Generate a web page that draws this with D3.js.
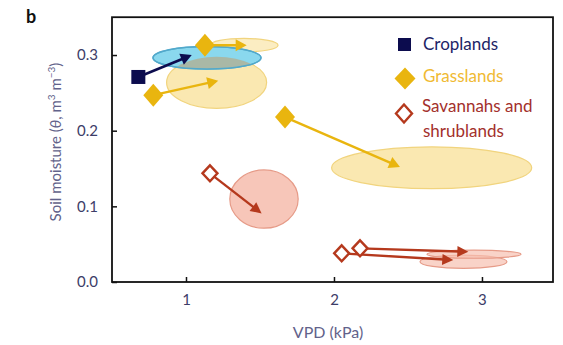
<!DOCTYPE html>
<html>
<head>
<meta charset="utf-8">
<script src="https://cdn.jsdelivr.net/npm/d3@7"></script>
<style>
  body { margin: 0; background: #fff; }
  svg { display: block; }
  text { font-family: Lato, "Open Sans", sans-serif; }
</style>
</head>
<body>
<svg id="chart" width="563" height="345"></svg>
<script>
// Biome groups shown in the legend
const categories = ["Croplands", "Grasslands", "Savannahs and shrublands"];

// Axis ticks
const xTicks = [1, 2, 3];
const xTickLabels = ["1", "2", "3"];
const yTicks = [0, 0.1, 0.2, 0.3];
const yTickLabels = ["0.0", "0.1", "0.2", "0.3"];

// Present-day state [VPD (kPa), soil moisture] and projected state
const cropStart = [[0.678, 0.271]];
const cropEnd = [[1.039, 0.300]];
const grassStart = [[0.779, 0.247], [1.128, 0.313], [1.669, 0.218]];
const grassEnd = [[1.218, 0.266], [1.410, 0.313], [2.446, 0.152]];
const savStart = [[1.162, 0.1436], [2.052, 0.0379], [2.176, 0.0445]];
const savEnd = [[1.511, 0.0907], [2.806, 0.029], [2.908, 0.040]];

// Spread of projections: [VPD centre, SM centre, VPD half-range, SM half-range]
const cropSpread = [[1.142, 0.2963, 0.365, 0.0149]];
const grassSpread = [[1.207, 0.2637, 0.338, 0.0341], [1.392, 0.313, 0.23, 0.009], [2.66, 0.151, 0.676, 0.0277]];
const savSpread = [[1.527, 0.1096, 0.231, 0.0385], [2.875, 0.0268, 0.294, 0.0088], [2.946, 0.0367, 0.318, 0.0053]];

const colors = {
  crop: "#0c0c4e", cropFill: "#8ad8ee", cropEdge: "#52a9cb",
  grass: "#e9b50f", grassFill: "#f9e6a8", grassEdge: "#f1d47e",
  sav: "#b5391d", savFill: "#f6c0b1", savEdge: "#e69b88",
  overlap: "#a9b8a6"
};

const svg = d3.select("#chart");
const x = d3.scaleLinear().domain([0.5, 3.48]).range([112, 553]);
const y = d3.scaleLinear().domain([0, 0.35]).range([282, 17.2]);

// Spread ellipses
function ellipse(g, d, fill, edge, op) {
  return g.append("ellipse")
    .attr("cx", x(d[0])).attr("cy", y(d[1]))
    .attr("rx", x(d[0] + d[2]) - x(d[0]))
    .attr("ry", y(d[1] - d[3]) - y(d[1]))
    .attr("fill", fill).attr("fill-opacity", op)
    .attr("stroke", edge).attr("stroke-width", 1.2);
}

const gE = svg.append("g");
savSpread.forEach((d, i) => ellipse(gE, d, colors.savFill, colors.savEdge, i === 0 ? 0.9 : 0.7));
grassSpread.forEach((d, i) => ellipse(gE, d, colors.grassFill, colors.grassEdge, i === 1 ? 0.7 : 0.9));
cropSpread.forEach(d => ellipse(gE, d, colors.cropFill, colors.cropEdge, 1));

// Where croplands and grasslands spreads overlap
const defs = svg.append("defs");
const cp = cropSpread[0];
defs.append("clipPath").attr("id", "cropClip").append("ellipse")
  .attr("cx", x(cp[0])).attr("cy", y(cp[1]))
  .attr("rx", x(cp[0] + cp[2]) - x(cp[0]))
  .attr("ry", y(cp[1] - cp[3]) - y(cp[1]));
const gp = grassSpread[0];
gE.append("ellipse")
  .attr("clip-path", "url(#cropClip)")
  .attr("cx", x(gp[0])).attr("cy", y(gp[1]))
  .attr("rx", x(gp[0] + gp[2]) - x(gp[0]))
  .attr("ry", y(gp[1] - gp[3]) - y(gp[1]))
  .attr("fill", colors.overlap);
cropSpread.forEach(d => ellipse(gE, d, "none", colors.cropEdge, 1).attr("stroke-width", 1.5));

// Arrows from present to projected state
function arrow(g, s, e, color, w, hl, hw) {
  const x0 = x(s[0]), y0 = y(s[1]), x1 = x(e[0]), y1 = y(e[1]);
  const len = Math.hypot(x1 - x0, y1 - y0), ux = (x1 - x0) / len, uy = (y1 - y0) / len;
  const bx = x1 - ux * hl, by = y1 - uy * hl;
  g.append("line")
    .attr("x1", x0).attr("y1", y0)
    .attr("x2", bx + ux * 2).attr("y2", by + uy * 2)
    .attr("stroke", color).attr("stroke-width", w);
  g.append("path")
    .attr("d", `M${x1},${y1}L${bx - uy * hw},${by + ux * hw}L${bx + uy * hw},${by - ux * hw}Z`)
    .attr("fill", color);
}
const gA = svg.append("g");
savStart.forEach((s, i) => arrow(gA, s, savEnd[i], colors.sav, 2.4, 11, 5.5));
grassStart.forEach((s, i) => arrow(gA, s, grassEnd[i], colors.grass, 2.4, 11, 6));
cropStart.forEach((s, i) => arrow(gA, s, cropEnd[i], colors.crop, 2.6, 11, 6));

// Markers
const diamond = (cx, cy, hw, hh) => `M${cx},${cy - hh}L${cx + hw},${cy}L${cx},${cy + hh}L${cx - hw},${cy}Z`;
const gM = svg.append("g");
savStart.forEach(d => gM.append("path")
  .attr("d", diamond(x(d[0]), y(d[1]), 7.5, 8))
  .attr("fill", "#fff").attr("stroke", colors.sav).attr("stroke-width", 2.4));
grassStart.forEach(d => gM.append("path")
  .attr("d", diamond(x(d[0]), y(d[1]), 10, 11.5))
  .attr("fill", colors.grass));
cropStart.forEach(d => gM.append("rect")
  .attr("x", x(d[0]) - 7).attr("y", y(d[1]) - 7)
  .attr("width", 14).attr("height", 14)
  .attr("fill", colors.crop));

// Frame
svg.append("rect")
  .attr("x", 112).attr("y", 17.2).attr("width", 441).attr("height", 264.8)
  .attr("fill", "none").attr("stroke", "#111").attr("stroke-width", 1.8);

// Axes with inward ticks
const tickColor = "#3d3d68";
const gx = svg.append("g").attr("transform", "translate(0,282)")
  .call(d3.axisBottom(x).tickValues(xTicks).tickFormat((d, i) => xTickLabels[i])
    .tickSizeInner(-5).tickSizeOuter(0).tickPadding(12));
const gy = svg.append("g").attr("transform", "translate(112,0)")
  .call(d3.axisLeft(y).tickValues(yTicks).tickFormat((d, i) => yTickLabels[i])
    .tickSizeInner(-5).tickSizeOuter(0).tickPadding(14));
[gx, gy].forEach(g => {
  g.select(".domain").remove();
  g.selectAll(".tick line").attr("stroke", "#111").attr("stroke-width", 1.5);
  g.selectAll(".tick text").attr("fill", tickColor).attr("font-size", 15)
    .attr("font-family", "Lato, sans-serif");
});

// Axis titles
const titleColor = "#62628a";
svg.append("text")
  .attr("x", 328).attr("y", 338).attr("text-anchor", "middle")
  .attr("font-size", 16).attr("fill", titleColor)
  .text("VPD (kPa)");

const yt = svg.append("text")
  .attr("transform", "translate(61,142) rotate(-90)")
  .attr("text-anchor", "middle").attr("font-size", 15).attr("fill", titleColor);
yt.append("tspan").text("Soil moisture (");
yt.append("tspan").attr("font-style", "italic").text("θ");
yt.append("tspan").text(", m");
yt.append("tspan").attr("font-size", 10).attr("dy", -6).text("3");
yt.append("tspan").attr("dy", 6).text(" m");
yt.append("tspan").attr("font-size", 10).attr("dy", -6).text("−3");
yt.append("tspan").attr("dy", 6).text(")");

// Panel letter
svg.append("text").attr("x", 26).attr("y", 23)
  .attr("font-size", 18).attr("font-weight", "bold").attr("fill", "#111").text("b");

// Legend
const gL = svg.append("g");
gL.append("rect").attr("x", 398).attr("y", 38).attr("width", 13).attr("height", 13).attr("fill", colors.crop);
gL.append("path").attr("d", diamond(405, 78.5, 10.5, 11)).attr("fill", colors.grass);
gL.append("path").attr("d", diamond(404, 113.5, 8, 9))
  .attr("fill", "#fff").attr("stroke", colors.sav).attr("stroke-width", 2.4);
gL.append("text").attr("x", 423).attr("y", 50).attr("font-size", 17).attr("fill", "#1c2466").text(categories[0]);
gL.append("text").attr("x", 423).attr("y", 82).attr("font-size", 17).attr("fill", "#f0ba33").text(categories[1]);
const st = gL.append("text").attr("x", 422).attr("y", 112).attr("font-size", 17).attr("fill", "#a3302c");
st.append("tspan").attr("x", 422).text("Savannahs and");
st.append("tspan").attr("x", 423).attr("dy", 25).text("shrublands");
</script>
</body>
</html>
